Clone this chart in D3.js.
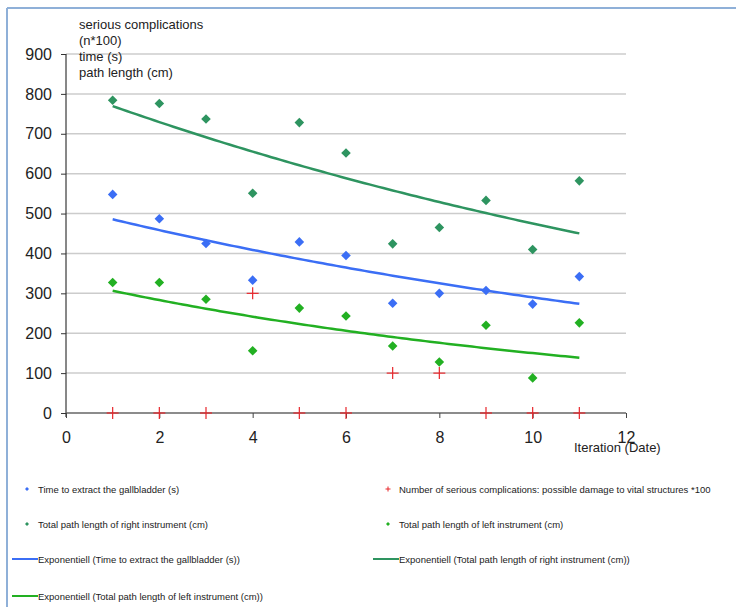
<!DOCTYPE html>
<html><head><meta charset="utf-8">
<script src="https://cdn.jsdelivr.net/npm/d3@7/dist/d3.min.js"></script>
<style>body{margin:0;background:#fff;}svg{display:block;font-family:"Liberation Sans",Arial,sans-serif;}</style>
</head><body><svg id="c" width="736" height="607"></svg>
<script>
const iterations = [1,2,3,4,5,6,7,8,9,10,11];
const timeGallbladder = [548,487,425,333,429,395,275,300,307,273,342];
const complications = [0,0,0,300,0,0,100,100,0,0,0];
const rightPath = [784,776,737,551,728,652,424,465,533,410,582];
const leftPath = [327,327,285,156,263,243,168,128,220,88,226];
const yTicks = [0,100,200,300,400,500,600,700,800,900];
const xTicks = [0,2,4,6,8,10,12];
const yTitle = ["serious complications","(n*100)","time (s)","path length (cm)"];
const xTitle = "Iteration (Date)";
const legendItems = [
 {label:"Time to extract the gallbladder (s)", type:"diamond", color:"#3b6ef5"},
 {label:"Number of serious complications: possible damage to vital structures *100", type:"plus", color:"#e8262b"},
 {label:"Total path length of right instrument (cm)", type:"diamond", color:"#2e9460"},
 {label:"Total path length of left instrument (cm)", type:"diamond", color:"#22b022"},
 {label:"Exponentiell (Time to extract the gallbladder (s))", type:"line", color:"#3b6ef5"},
 {label:"Exponentiell (Total path length of right instrument (cm))", type:"line", color:"#2e9460"},
 {label:"Exponentiell (Total path length of left instrument (cm))", type:"line", color:"#22b022"}
];

const svg = d3.select("#c");
// frame
svg.append("line").attr("x1",7).attr("x2",736).attr("y1",8).attr("y2",8).attr("stroke","#8fb0d8").attr("stroke-width",2);
svg.append("line").attr("x1",7).attr("x2",7).attr("y1",8).attr("y2",607).attr("stroke","#8fb0d8").attr("stroke-width",2);

const x = d3.scaleLinear().domain([0,12]).range([66,626]);
const y = d3.scaleLinear().domain([0,900]).range([413,54]);

// grid
svg.append("g").selectAll("line").data(yTicks.filter(d=>d>0)).join("line")
 .attr("x1",x(0)).attr("x2",x(12)).attr("y1",d=>y(d)).attr("y2",d=>y(d))
 .attr("stroke","#cccccc").attr("stroke-width",1.5);

// axes
const ya = svg.append("g").attr("transform",`translate(${x(0)},0)`)
 .call(d3.axisLeft(y).tickValues(yTicks).tickSize(5).tickPadding(9).tickFormat(d3.format("d")));
ya.select(".domain").attr("stroke","#111").attr("d",`M-0,${y(900)}V${y(0)+4}`);
ya.selectAll("text").attr("font-size",16).attr("fill","#222").attr("font-family","Liberation Sans, Arial, sans-serif");
ya.selectAll(".tick line").attr("stroke","#333");

const xa = svg.append("g").attr("transform",`translate(0,${y(0)})`)
 .call(d3.axisBottom(x).tickValues(xTicks).tickSize(5).tickPadding(14).tickFormat(d3.format("d")));
xa.select(".domain").attr("stroke","#666").attr("stroke-width",1.5).attr("d",`M${x(0)},0H${x(12)}`);
xa.selectAll("text").attr("font-size",16).attr("fill","#222").attr("font-family","Liberation Sans, Arial, sans-serif");
xa.selectAll(".tick line").attr("stroke","#444");

// axis titles
svg.append("text").attr("x",79).attr("y",0).attr("font-size",13).attr("fill","#222")
 .selectAll("tspan").data(yTitle).join("tspan").attr("x",79).attr("y",(d,i)=>29+i*16).text(d=>d);
svg.append("text").attr("x",574).attr("y",452).attr("font-size",13).attr("fill","#222").text(xTitle);

// exponential fit
function expFit(xs, ys){
  const ly=ys.map(Math.log);
  const mx=d3.mean(xs), my=d3.mean(ly);
  let sxy=0,sxx=0; xs.forEach((v,i)=>{sxy+=(v-mx)*(ly[i]-my);sxx+=(v-mx)*(v-mx);});
  const b=sxy/sxx, a=my-b*mx;
  return t=>Math.exp(a+b*t);
}
const fitX = d3.range(1,11.001,0.1);
const line = d3.line().x(d=>x(d[0])).y(d=>y(d[1]));
[[timeGallbladder,"#3b6ef5"],[rightPath,"#2e9460"],[leftPath,"#22b022"]].forEach(([vals,col])=>{
  const f = expFit(iterations, vals);
  svg.append("path").attr("d",line(fitX.map(t=>[t,f(t)]))).attr("fill","none").attr("stroke",col).attr("stroke-width",2.5);
});

function diamonds(vals,col){
  svg.append("g").selectAll("path").data(iterations).join("path")
   .attr("d",d3.symbol().type(d3.symbolSquare).size(46))
   .attr("transform",(d,i)=>`translate(${x(d)},${y(vals[i])}) rotate(45)`).attr("fill",col);
}
diamonds(rightPath,"#2e9460");
diamonds(timeGallbladder,"#3b6ef5");
diamonds(leftPath,"#22b022");
// complications plus
const pg = svg.append("g");
iterations.forEach((d,i)=>{
  const cx=x(d), cy=y(complications[i]);
  pg.append("line").attr("x1",cx-6).attr("x2",cx+6).attr("y1",cy).attr("y2",cy).attr("stroke","#e8262b").attr("stroke-width",1.2);
  pg.append("line").attr("x1",cx).attr("x2",cx).attr("y1",cy-6).attr("y2",cy+6).attr("stroke","#e8262b").attr("stroke-width",1.2);
});

// legend
const lpos = [[27,489],[388,489],[27,524],[388,524],[27,559],[388,559],[27,596]];
legendItems.forEach((it,i)=>{
  const [lx,ly]=lpos[i];
  const g=svg.append("g");
  if(it.type==="diamond"){
    g.append("path").attr("d",d3.symbol().type(d3.symbolSquare).size(8)).attr("transform",`translate(${lx},${ly}) rotate(45)`).attr("fill",it.color);
  } else if(it.type==="plus"){
    g.append("line").attr("x1",lx-2.5).attr("x2",lx+2.5).attr("y1",ly).attr("y2",ly).attr("stroke",it.color);
    g.append("line").attr("x1",lx).attr("x2",lx).attr("y1",ly-2.5).attr("y2",ly+2.5).attr("stroke",it.color);
  } else {
    g.append("line").attr("x1",lx-15).attr("x2",lx+11).attr("y1",ly).attr("y2",ly).attr("stroke",it.color).attr("stroke-width",2);
  }
  g.append("text").attr("x",lx+11).attr("y",ly+3.5).attr("font-size",9.5).attr("fill","#222").text(it.label);
});
</script></body></html>
